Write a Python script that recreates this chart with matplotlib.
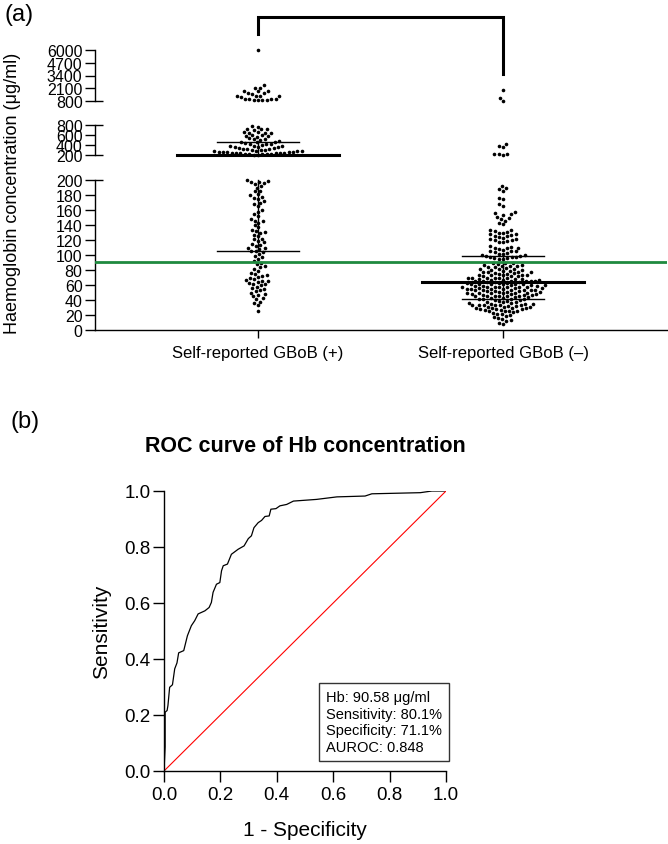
import numpy as np
import matplotlib
matplotlib.use('Agg')
import matplotlib.pyplot as plt

plt.rcParams['font.family'] = ['Liberation Sans', 'DejaVu Sans']

# ---------------- panel (a) data: Hb concentration (ug/ml) ----------------
groups = ['Self-reported GBoB (+)', 'Self-reported GBoB (–)']

gbob_pos = [
    # > 800
    6000, 2460, 2150, 2100, 1850, 1800, 1780, 1600, 1580, 1550, 1350, 1330,
    1300, 1280, 1250, 1020, 1000, 980, 960, 950, 940, 920, 900,
    # 200 - 800
    780, 770, 730, 722, 715, 710, 665, 658, 650, 645, 640, 600, 592, 585,
    578, 570, 535, 525, 515, 505, 475, 468, 460, 455, 440, 430, 420, 412,
    405, 390, 382, 375, 370, 362, 355, 340, 332, 325, 320, 315, 310, 302,
    295, 285, 280, 275, 272, 268, 265, 262, 258, 255, 250, 246, 242, 238,
    235, 232, 228, 225, 222, 218, 214, 210, 205,
    # <= 200
    200, 199, 198, 197, 196, 195, 192, 190, 186, 185, 181, 180, 177, 176,
    175, 172, 170, 168, 165, 160, 158, 155, 152, 148, 146, 145, 143, 140,
    137, 134, 132, 131, 130, 127, 125, 122, 121, 119, 117, 115, 114, 112,
    110, 109, 108, 106, 105, 104, 101, 99, 97, 95, 92, 90, 88, 85, 84, 81,
    79, 76, 75, 73, 72, 71, 69, 68, 67, 66, 65, 64, 63, 62, 61, 60, 58, 56,
    55, 54, 52, 50, 48, 47, 45, 43, 41, 38, 36, 33, 25,
]

gbob_neg = [
    # > 800
    1950, 1100, 830,
    # 200 - 800
    420, 380, 360, 225, 220, 215, 210,
    # <= 200
    192, 190, 188, 186, 176, 175, 168, 165,
    157, 156, 155, 154, 151, 150, 148, 146, 143, 141,
    134, 133, 132, 131, 130, 129, 128, 128, 127, 126, 125, 124, 123, 122,
    121, 120, 120, 119, 118, 117,
    112, 111, 110, 110, 109, 108, 107, 106, 105, 105, 104, 103, 102, 101,
    100, 100, 99, 99, 98, 97, 97, 96, 96, 95, 95,
    90, 89, 89, 88, 87, 87, 86, 85, 85, 84, 84, 83, 82, 82, 81, 80, 80, 79,
    79, 78, 78, 77, 77, 76, 76, 75, 75, 74, 74, 74, 73, 73, 72, 72, 72,
    70, 70, 70, 69, 69, 69, 68, 68, 68, 67, 67, 67, 66, 66, 66, 65, 65, 65,
    64, 64, 64, 63, 63, 63, 62, 62, 62, 61, 61, 61, 60, 60, 60, 59, 59, 59,
    58, 58, 58, 57, 57, 57, 57, 56, 56, 56, 55, 55, 55, 55,
    54, 54, 54, 53, 53, 53, 52, 52, 52, 51, 51, 51, 50, 50, 50, 49, 49, 49,
    48, 48, 48, 47, 47, 47, 46, 46, 46, 45, 45, 45, 44, 44, 43, 43, 42, 42,
    41, 41, 40, 40, 39, 39, 38, 38, 37,
    36, 36, 35, 35, 35, 34, 34, 34, 33, 33, 33, 32, 32, 31, 31, 31, 30, 30,
    29, 29, 28, 28, 28, 27, 27, 26, 26, 25, 25, 24,
    23, 22, 21, 20, 19, 17, 16, 15, 13, 12, 10, 8,
]

medians = [205, 64]
q1 = [106, 41]
q3 = [460, 99]
cutoff = 90.58

# broken y axis: (low, high) of each segment and its ticks
segments = [(0, 200), (200, 800), (800, 6000)]
seg_ticks = [
    [0, 20, 40, 60, 80, 100, 120, 140, 160, 180, 200],
    [200, 400, 600, 800],
    [800, 2100, 3400, 4700, 6000],
]

# ---------------- panel (b) data: ROC curve ----------------
fpr = [0.0, 0.004, 0.004, 0.011, 0.014, 0.020, 0.030, 0.038, 0.046, 0.052,
       0.070, 0.083, 0.097, 0.109, 0.121, 0.145, 0.160, 0.168, 0.174, 0.186,
       0.198, 0.204, 0.210, 0.225, 0.239, 0.263, 0.284, 0.299, 0.310, 0.319,
       0.334, 0.346, 0.358, 0.373, 0.379, 0.397, 0.411, 0.435, 0.459, 0.541,
       0.613, 0.713, 0.737, 0.909, 0.950, 1.0]
tpr = [0.0, 0.086, 0.210, 0.216, 0.234, 0.299, 0.308, 0.365, 0.386, 0.422,
       0.430, 0.483, 0.519, 0.537, 0.561, 0.572, 0.584, 0.602, 0.638, 0.667,
       0.673, 0.715, 0.733, 0.739, 0.774, 0.792, 0.804, 0.830, 0.840, 0.869,
       0.887, 0.895, 0.909, 0.911, 0.935, 0.937, 0.947, 0.952, 0.964, 0.970,
       0.979, 0.982, 0.990, 0.994, 1.0, 1.0]
roc_info = 'Hb: 90.58 μg/ml\nSensitivity: 80.1%\nSpecificity: 71.1%\nAUROC: 0.848'

W, H = 668, 845
fig = plt.figure(figsize=(W / 100, H / 100), dpi=100)


def rect(left, top, right, bottom):
    # pixel box -> figure fraction
    return [left / W, 1 - bottom / H, (right - left) / W, (bottom - top) / H]


# ---- panel (a) ----
ax_bot = fig.add_axes(rect(95, 181, 667, 331))
ax_mid = fig.add_axes(rect(95, 126, 667, 156))
ax_top = fig.add_axes(rect(95, 51, 667, 102))
seg_axes = [ax_bot, ax_mid, ax_top]

for i, ax in enumerate(seg_axes):
    lo, hi = segments[i]
    ax.set_ylim(lo, hi)
    ax.set_xlim(-0.665, 1.669)
    ax.set_yticks(seg_ticks[i])
    ax.set_yticklabels([str(t) for t in seg_ticks[i]])
    ax.tick_params(axis='y', length=7, width=1, pad=2, labelsize=11.5)
    for s in ['top', 'right']:
        ax.spines[s].set_visible(False)
    ax.spines['left'].set_linewidth(1)
    ax.patch.set_alpha(0)
    # small caps at the breaks
    caps = [t for t in (lo, hi) if (i > 0 and t == lo) or (i < 2 and t == hi)]
    ax.yaxis.remove_overlapping_locs = False
    ax.set_yticks(caps, minor=True)
    ax.tick_params(axis='y', which='minor', direction='in', length=6, width=1)
    if i > 0:
        ax.spines['bottom'].set_visible(False)
        ax.set_xticks([])

ax_bot.spines['bottom'].set_linewidth(1)
ax_bot.set_xticks([0, 1])
ax_bot.set_xticklabels(groups)
ax_bot.tick_params(axis='x', length=6, width=1, pad=5, labelsize=12)


def seg_index(v):
    for i, (lo, hi) in enumerate(segments):
        if v <= hi:
            return i
    return len(segments) - 1


def swarm(ypix, d):
    # greedy beeswarm in pixel space
    xs = np.zeros(len(ypix))
    placed = []
    for i in np.argsort(ypix):
        y = ypix[i]
        near = [(px, py) for px, py in placed if abs(py - y) < d]
        cands = [0.0]
        for px, py in near:
            dx = np.sqrt(d ** 2 - (py - y) ** 2)
            cands += [px - dx, px + dx]
        cands.sort(key=abs)
        for c in cands:
            if all((c - px) ** 2 + (y - py) ** 2 >= d ** 2 - 1e-6 for px, py in near):
                xs[i] = c
                break
        placed.append((xs[i], y))
    return xs


px_per_unit = ax_bot.transData.transform((1, 0))[0] - ax_bot.transData.transform((0, 0))[0]

for g, vals in enumerate([gbob_pos, gbob_neg]):
    vals = np.array(vals, dtype=float)
    idx = np.array([seg_index(v) for v in vals])
    ypix = np.array([seg_axes[k].transData.transform((0, v))[1] for k, v in zip(idx, vals)])
    xoff = swarm(ypix, 4.4) / px_per_unit
    for k, ax in enumerate(seg_axes):
        m = idx == k
        ax.plot(g + xoff[m], vals[m], 'o', ms=2.6, mew=0, color='black',
                clip_on=False, zorder=3)

    # median (thick) and interquartile range
    seg_axes[seg_index(medians[g])].plot([g - 0.33, g + 0.33], [medians[g]] * 2,
                                         color='black', lw=2.2, clip_on=False, zorder=4)
    for q in (q1[g], q3[g]):
        seg_axes[seg_index(q)].plot([g - 0.167, g + 0.167], [q, q], color='black',
                                    lw=1, clip_on=False, zorder=4)
    for k, ax in enumerate(seg_axes):
        lo, hi = segments[k]
        a, b = max(q1[g], lo), min(q3[g], hi)
        if a < b:
            ax.plot([g, g], [a, b], color='black', lw=1, clip_on=False, zorder=4)

ax_bot.axhline(cutoff, color='#1f8a3f', lw=2, zorder=5)

# significance bracket
ax_top.plot([0, 0, 1, 1], [7630, 9370, 9370, 3555], color='black', lw=2.2,
            clip_on=False, solid_joinstyle='miter')

fig.text(13 / W, 1 - 193 / H, 'Haemoglobin concentration (μg/ml)', rotation=90,
         ha='center', va='center', fontsize=13)
fig.text(4 / W, 1 - 15 / H, '(a)', ha='left', va='center', fontsize=17)

# ---- panel (b) ----
ax_roc = fig.add_axes(rect(164, 492, 446, 772))
ax_roc.plot(fpr, tpr, color='black', lw=0.9)
ax_roc.plot([0, 1], [0, 1], color='red', lw=0.8)
ax_roc.set_xlim(0, 1)
ax_roc.set_ylim(0, 1)
ticks = [0.0, 0.2, 0.4, 0.6, 0.8, 1.0]
ax_roc.set_xticks(ticks)
ax_roc.set_yticks(ticks)
ax_roc.set_xticklabels([f'{t:.1f}' for t in ticks])
ax_roc.set_yticklabels([f'{t:.1f}' for t in ticks])
ax_roc.tick_params(length=8, width=1, labelsize=13.5)
ax_roc.tick_params(axis='y', pad=1.5)
ax_roc.tick_params(axis='x', pad=3)
for s in ['top', 'right']:
    ax_roc.spines[s].set_visible(False)
for s in ['left', 'bottom']:
    ax_roc.spines[s].set_linewidth(1)
ax_roc.set_xlabel('1 - Specificity', fontsize=15, labelpad=12)
ax_roc.set_ylabel('Sensitivity', fontsize=15, labelpad=10)
ax_roc.set_title('ROC curve of Hb concentration', fontsize=15.5, fontweight='bold', pad=29)
ax_roc.text(0.575, 0.06, roc_info, transform=ax_roc.transAxes, fontsize=10.5,
            va='bottom', ha='left', linespacing=1.25,
            bbox=dict(boxstyle='square,pad=0.5', fc='white', ec='#333333', lw=1))
fig.text(10 / W, 1 - 422 / H, '(b)', ha='left', va='center', fontsize=17)

fig.savefig('out.png', dpi=100)
